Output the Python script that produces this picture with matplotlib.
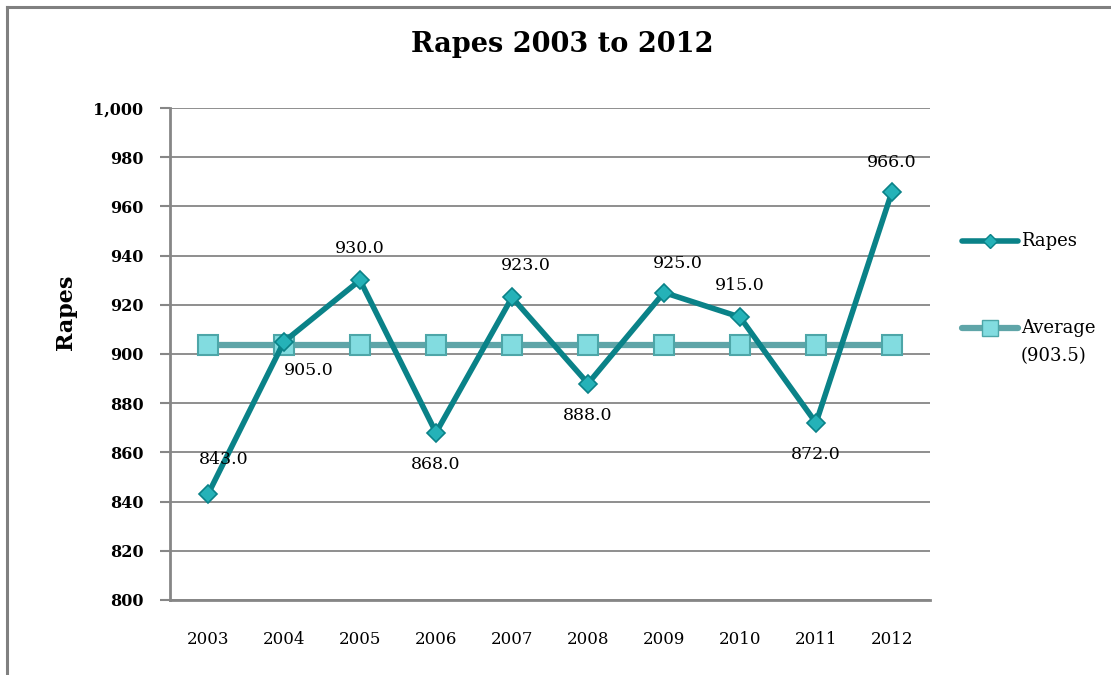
import matplotlib
matplotlib.use("Agg")
import matplotlib.pyplot as plt
from matplotlib.lines import Line2D

years = ["2003", "2004", "2005", "2006", "2007", "2008", "2009", "2010", "2011", "2012"]
rapes = [843, 905, 930, 868, 923, 888, 925, 915, 872, 966]
average = 903.5
avg_vals = [average] * len(years)
yticks = [800, 820, 840, 860, 880, 900, 920, 940, 960, 980, 1000]

# label offsets (points) - style only
label_offsets = [(11, 25), (18, -21), (0, 23), (0, -23), (10, 23),
                 (0, -23), (10, 21), (0, 23), (0, -23), (0, 21)]

plt.rcParams['font.family'] = ['DejaVu Serif']

W, H = 1111, 675
fig = plt.figure(figsize=(W / 100, H / 100), dpi=100)
fig.patch.set_facecolor("white")

# outer frame (left and top edges visible)
fig.add_artist(Line2D([7 / W, 7 / W], [0, 1 - 7 / H], color="#808080", lw=2.2, transform=fig.transFigure))
fig.add_artist(Line2D([7 / W, 1], [1 - 7 / H, 1 - 7 / H], color="#808080", lw=2.2, transform=fig.transFigure))

left, right, top, bottom = 170, 930, 108, 600
ax = fig.add_axes([left / W, 1 - bottom / H, (right - left) / W, (bottom - top) / H])

x = list(range(len(years)))
grid_c = "#868686"
for v in yticks:
    ax.axhline(v, color=grid_c, lw=1.3, zorder=1)

ax.plot(x, avg_vals, color="#5FA5A8", lw=4.5, marker="s", markersize=15,
        markerfacecolor="#82DCE0", markeredgecolor="#4DA6A8", markeredgewidth=1.5, zorder=3)
ax.plot(x, rapes, color="#0A8288", lw=4, marker="D", markersize=9,
        markerfacecolor="#25B2B8", markeredgecolor="#0A8288", markeredgewidth=1.2, zorder=4)

for i, v in enumerate(rapes):
    dx, dy = label_offsets[i]
    ax.annotate(f"{v:.1f}", (i, v), xytext=(dx, dy), textcoords="offset points",
                ha="center", va="center", fontsize=12.5, color="black", zorder=6)

ax.set_xlim(-0.5, len(years) - 0.5)
ax.set_ylim(800, 1000)
ax.set_yticks(yticks)
ax.set_yticklabels([f"{v:,}" for v in yticks], fontsize=11.5, fontweight="bold")
ax.set_xticks(x)
ax.set_xticklabels(years, fontsize=12)
ax.tick_params(axis="x", length=0, pad=22)
ax.tick_params(axis="y", length=7, width=1.5, color=grid_c, pad=12)

for s in ["top", "right"]:
    ax.spines[s].set_visible(False)
for s in ["left", "bottom"]:
    ax.spines[s].set_color(grid_c)
    ax.spines[s].set_linewidth(2)
ax.set_facecolor("white")

fig.text(66 / W, 1 - 312 / H, "Rapes", rotation=90, ha="center", va="center",
         fontsize=16, fontweight="bold")
fig.text(562 / W, 1 - 45 / H, "Rapes 2003 to 2012", ha="center", va="center",
         fontsize=19.5, fontweight="bold")

# legend
fig.add_artist(Line2D([962 / W, 1018 / W], [1 - 241 / H] * 2, color="#0A8288", lw=4,
                      transform=fig.transFigure, solid_capstyle="round"))
fig.add_artist(Line2D([990 / W], [1 - 241 / H], marker="D", markersize=7,
                      markerfacecolor="#25B2B8", markeredgecolor="#0A8288",
                      transform=fig.transFigure))
fig.text(1021 / W, 1 - 241 / H, "Rapes", ha="left", va="center", fontsize=13)

fig.add_artist(Line2D([962 / W, 1018 / W], [1 - 328 / H] * 2, color="#5FA5A8", lw=4.5,
                      transform=fig.transFigure, solid_capstyle="round"))
fig.add_artist(Line2D([990 / W], [1 - 328 / H], marker="s", markersize=11,
                      markerfacecolor="#82DCE0", markeredgecolor="#4DA6A8",
                      transform=fig.transFigure))
fig.text(1021 / W, 1 - 328 / H, "Average", ha="left", va="center", fontsize=13)
fig.text(1021 / W, 1 - 356 / H, "(903.5)", ha="left", va="center", fontsize=13)

fig.savefig("out.png", dpi=100, facecolor="white")
